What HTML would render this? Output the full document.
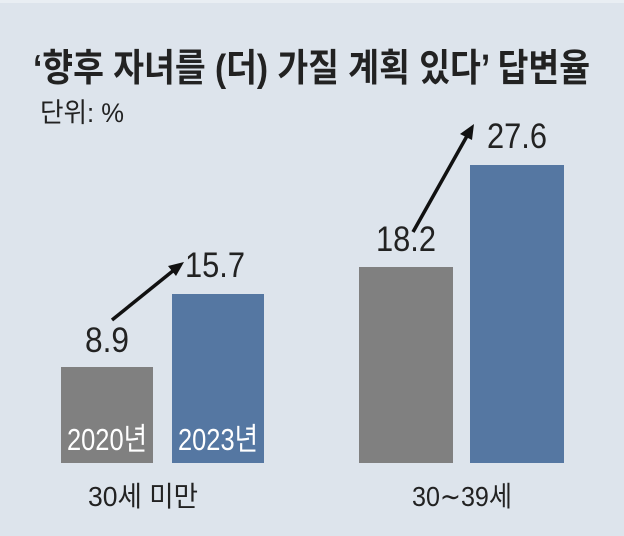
<!DOCTYPE html>
<html><head><meta charset="utf-8"><style>
body{margin:0;background:#dde4ec;}
svg{display:block}
text{font-family:"Liberation Sans","Noto Sans CJK KR",sans-serif;}
</style></head><body>
<svg width="624" height="536" viewBox="0 0 624 536">
<rect width="624" height="536" fill="#dde4ec"/>
<rect width="624" height="3" fill="#e9eef3"/>
<text x="33" y="81" font-size="38" font-weight="bold" fill="#222" textLength="557" lengthAdjust="spacingAndGlyphs">‘향후 자녀를 (더) 가질 계획 있다’ 답변율</text>
<text x="40" y="122" font-size="27" fill="#222" textLength="84" lengthAdjust="spacingAndGlyphs">단위: %</text>
<rect x="61" y="367" width="92" height="96" fill="#808080"/>
<rect x="172" y="294" width="92" height="169" fill="#5577a2"/>
<rect x="359" y="267" width="94" height="196" fill="#808080"/>
<rect x="470" y="165" width="94" height="298" fill="#5577a2"/>
<g fill="#fff" font-size="31">
<text x="107" y="450" text-anchor="middle" textLength="80" lengthAdjust="spacingAndGlyphs">2020년</text>
<text x="218" y="450" text-anchor="middle" textLength="80" lengthAdjust="spacingAndGlyphs">2023년</text>
</g>
<g fill="#222" font-size="35">
<text x="107" y="352" text-anchor="middle" textLength="44" lengthAdjust="spacingAndGlyphs">8.9</text>
<text x="215" y="277" text-anchor="middle" textLength="60" lengthAdjust="spacingAndGlyphs">15.7</text>
<text x="406" y="251" text-anchor="middle" textLength="60" lengthAdjust="spacingAndGlyphs">18.2</text>
<text x="517" y="148" text-anchor="middle" textLength="60" lengthAdjust="spacingAndGlyphs">27.6</text>
</g>
<g fill="#222" font-size="28">
<text x="143" y="506" text-anchor="middle" textLength="110" lengthAdjust="spacingAndGlyphs">30세 미만</text>
<text x="462" y="506" text-anchor="middle" textLength="100" lengthAdjust="spacingAndGlyphs">30∼39세</text>
</g>
<g stroke="#111" stroke-width="3.5" fill="#111">
<line x1="112" y1="320" x2="174" y2="270"/>
<polygon points="184,262 168,266 176,276" stroke="none"/>
<line x1="413" y1="232" x2="467" y2="136"/>
<polygon points="474,124 460,134 472,140" stroke="none"/>
</g>
</svg>
</body></html>
